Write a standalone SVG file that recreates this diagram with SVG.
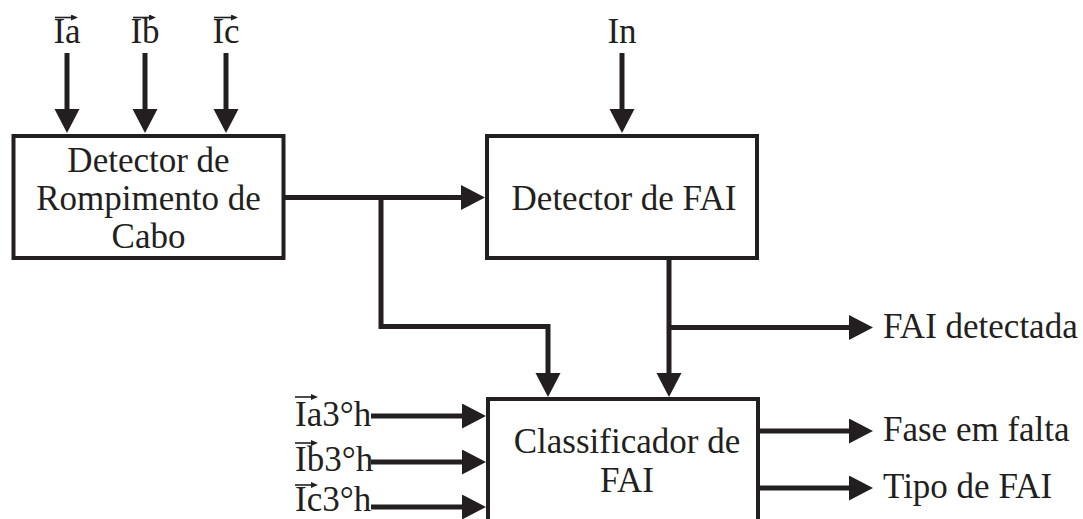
<svg xmlns="http://www.w3.org/2000/svg" width="1083" height="519" viewBox="0 0 1083 519">
  <style>
    .box { fill: #ffffff; stroke: #231f20; stroke-width: 4; }
    .wire { fill: none; stroke: #231f20; stroke-width: 5; }
    .vec { fill: none; stroke: #231f20; stroke-width: 1.6; }
    .t { font-size: 35px; fill: #231f20; }
    .c { text-anchor: middle; }
  </style>
  <defs>
    <marker id="head" markerUnits="userSpaceOnUse" markerWidth="26" markerHeight="26" refX="12" refY="12.5" orient="auto">
      <path d="M0,0 L24,12.5 L0,25 Z" fill="#231f20"/>
    </marker>
    <marker id="vhead" markerUnits="userSpaceOnUse" markerWidth="8" markerHeight="8" refX="3" refY="3" orient="auto">
      <path d="M0,0 L7,3 L0,6 Z" fill="#231f20"/>
    </marker>
  </defs>
  <rect width="1083" height="519" fill="#ffffff"/>

  <!-- connectors -->
  <g id="connectors">
    <line class="wire" x1="67" y1="53" x2="67" y2="121" marker-end="url(#head)"/>
    <line class="wire" x1="145" y1="53" x2="145" y2="121" marker-end="url(#head)"/>
    <line class="wire" x1="226" y1="53" x2="226" y2="121" marker-end="url(#head)"/>
    <line class="wire" x1="622" y1="53" x2="622" y2="121" marker-end="url(#head)"/>
    <line class="wire" x1="284" y1="197.5" x2="473" y2="197.5" marker-end="url(#head)"/>
    <polyline class="wire" points="381,197.5 381,326.5 548,326.5 548,385" marker-end="url(#head)"/>
    <line class="wire" x1="669" y1="259" x2="669" y2="385" marker-end="url(#head)"/>
    <line class="wire" x1="669" y1="327.5" x2="861" y2="327.5" marker-end="url(#head)"/>
    <line class="wire" x1="759" y1="431" x2="861" y2="431" marker-end="url(#head)"/>
    <line class="wire" x1="759" y1="488" x2="861" y2="488" marker-end="url(#head)"/>
    <line class="wire" x1="371" y1="416" x2="474" y2="416" marker-end="url(#head)"/>
    <line class="wire" x1="371" y1="462" x2="474" y2="462" marker-end="url(#head)"/>
    <line class="wire" x1="371" y1="507" x2="474" y2="507" marker-end="url(#head)"/>
  </g>

  <!-- all text uses a Times-metric serif -->
  <g font-family="Liberation Serif, Times New Roman, Tinos, Noto Serif, DejaVu Serif, serif">
    <!-- input and output labels -->
    <g id="labels">
      <text class="t c" x="67" y="43">Ia</text>
      <line class="vec" x1="55" y1="17.5" x2="74" y2="17.5" marker-end="url(#vhead)"/>
      <text class="t c" x="145" y="43">Ib</text>
      <line class="vec" x1="133" y1="17.5" x2="152" y2="17.5" marker-end="url(#vhead)"/>
      <text class="t c" x="226" y="43">Ic</text>
      <line class="vec" x1="214" y1="17.5" x2="234" y2="17.5" marker-end="url(#vhead)"/>
      <text class="t c" x="622" y="43">In</text>

      <text class="t" x="295" y="426">Ia3°h</text>
      <line class="vec" x1="295" y1="397" x2="314" y2="397" marker-end="url(#vhead)"/>
      <text class="t" x="295" y="471">Ib3°h</text>
      <line class="vec" x1="295" y1="443" x2="314" y2="443" marker-end="url(#vhead)"/>
      <text class="t" x="295" y="511">Ic3°h</text>
      <line class="vec" x1="295" y1="485" x2="314" y2="485" marker-end="url(#vhead)"/>

      <text class="t" x="883" y="338">FAI detectada</text>
      <text class="t" x="883" y="441">Fase em falta</text>
      <text class="t" x="883" y="498">Tipo de FAI</text>
    </g>

    <!-- blocks -->
    <g id="rompimento">
      <rect class="box" x="13.5" y="136" width="270" height="122"/>
      <text class="t c" x="148.5" y="172">Detector de</text>
      <text class="t c" x="148.5" y="210">Rompimento de</text>
      <text class="t c" x="148.5" y="248">Cabo</text>
    </g>
    <g id="detector-fai">
      <rect class="box" x="487" y="136" width="270" height="122"/>
      <text class="t c" x="624" y="210">Detector de FAI</text>
    </g>
    <g id="classificador">
      <rect class="box" x="488" y="399" width="270" height="160"/>
      <text class="t c" x="627" y="453">Classificador de</text>
      <text class="t c" x="627" y="492">FAI</text>
    </g>
  </g>
</svg>
